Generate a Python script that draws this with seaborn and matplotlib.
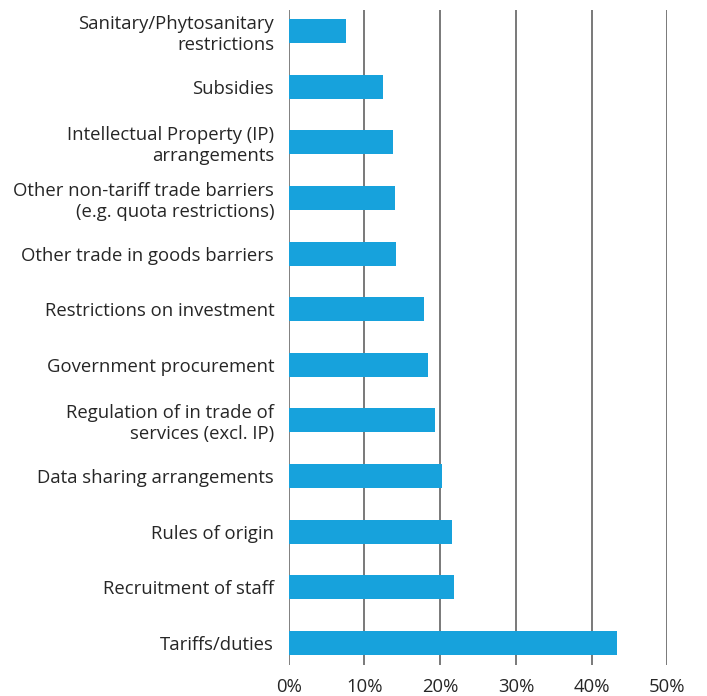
import matplotlib
matplotlib.use("Agg")
import matplotlib.pyplot as plt
from matplotlib.ticker import FuncFormatter
import seaborn as sns
import pandas as pd

categories = [
    "Sanitary/Phytosanitary\nrestrictions",
    "Subsidies",
    "Intellectual Property (IP)\narrangements",
    "Other non-tariff trade barriers\n(e.g. quota restrictions)",
    "Other trade in goods barriers",
    "Restrictions on investment",
    "Government procurement",
    "Regulation of in trade of\nservices (excl. IP)",
    "Data sharing arrangements",
    "Rules of origin",
    "Recruitment of staff",
    "Tariffs/duties",
]
shares = [7.6, 12.5, 13.8, 14.0, 14.2, 17.9, 18.4, 19.3, 20.2, 21.6, 21.8, 43.3]
x_ticks = [0, 10, 20, 30, 40, 50]

df = pd.DataFrame({"barrier": categories, "share": shares})

sns.set_theme(style="white")
plt.rcParams["font.family"] = ["Open Sans", "DejaVu Sans"]

fig = plt.figure(figsize=(7.07, 6.96), dpi=100)
ax = fig.add_axes([0.4084, 0.0445, 0.5355, 0.9411])

for t in x_ticks:
    ax.axvline(t, color="#808080" if t == 0 else "#555555",
               lw=1.4 if t == 0 else 1.1, zorder=0)

sns.barplot(data=df, y="barrier", x="share", orient="h", color="#17A2DC",
            saturation=1, width=0.43, linewidth=0, ax=ax, zorder=2)

ax.set_xlim(0, 50)
ax.set_ylim(len(categories) - 0.6, -0.38)
ax.set_xticks(x_ticks)
ax.xaxis.set_major_formatter(FuncFormatter(lambda v, p: f"{v:.0f}%"))
ax.set_xlabel("")
ax.set_ylabel("")
ax.tick_params(axis="both", length=0, labelsize=13.3, labelcolor="#262626")
ax.tick_params(axis="y", pad=10.5)
ax.tick_params(axis="x", pad=9)
for s in ax.spines.values():
    s.set_visible(False)
ax.grid(False)

fig.savefig("out.png", dpi=100)
